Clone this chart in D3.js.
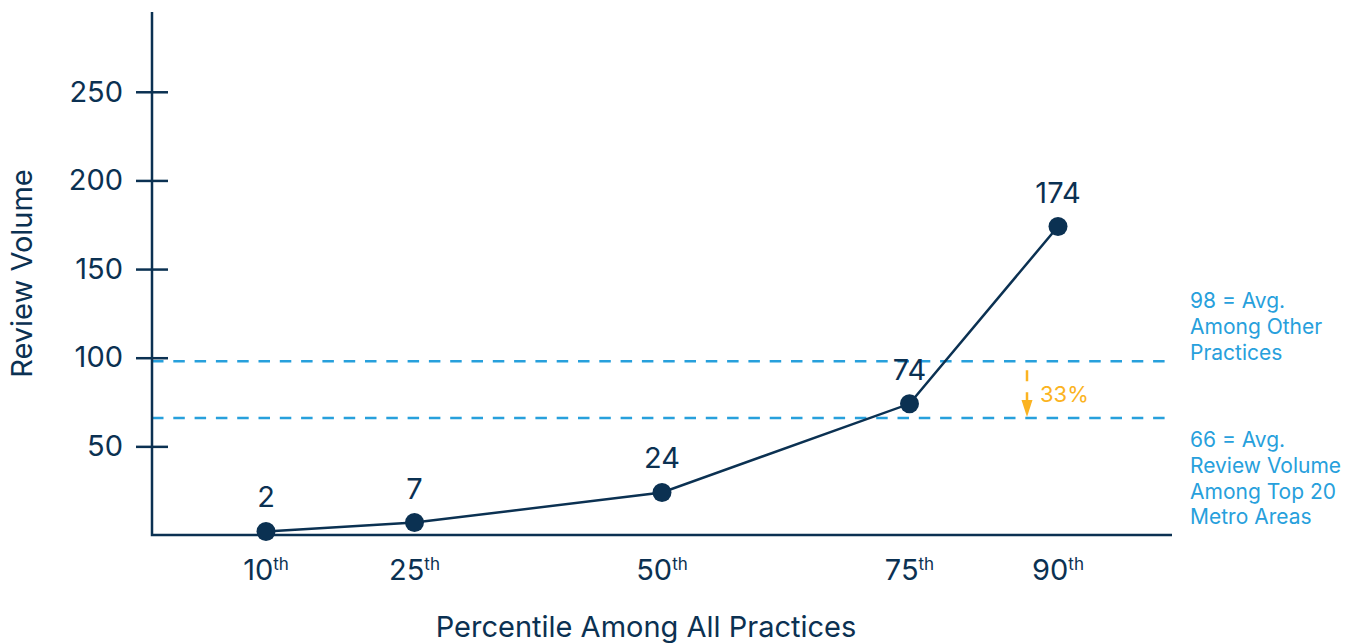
<!DOCTYPE html>
<html>
<head>
<meta charset="utf-8">
<script src="https://cdn.jsdelivr.net/npm/d3@7"></script>
<style>
  html, body { margin: 0; padding: 0; background: #ffffff; }
  svg { display: block; font-family: Inter, "Noto Sans", sans-serif; }
</style>
</head>
<body>
<svg id="chart" width="1357" height="643"></svg>
<script>
// Review volume by percentile
const percentiles = [10, 25, 50, 75, 90];
const reviewVolume = [2, 7, 24, 74, 174];
const yTickValues = [50, 100, 150, 200, 250];

// Reference averages
const refValues = [98, 66];
const refLabels = [
  ["98 = Avg.", "Among Other", "Practices"],
  ["66 = Avg.", "Review Volume", "Among Top 20", "Metro Areas"]
];

const xTitle = "Percentile Among All Practices";
const yTitle = "Review Volume";

const navy = "#0b3152";
const blue = "#27a0dc";
const orange = "#fbb321";
const mainSize = 29;

const svg = d3.select("#chart");

const axisLeftX = 152, axisRightX = 1172;
const axisBottomY = 535, axisTopY = 12;

const x = d3.scaleLinear().domain([0, 100]).range([167, 1157]);
const y = d3.scaleLinear().domain([0, 295]).range([axisBottomY, axisTopY]);

// Reference dashed lines
svg.selectAll("line.ref")
  .data(refValues)
  .join("line")
  .attr("class", "ref")
  .attr("x1", axisLeftX).attr("x2", axisRightX)
  .attr("y1", d => y(d)).attr("y2", d => y(d))
  .attr("stroke", blue)
  .attr("stroke-width", 2.5)
  .attr("stroke-dasharray", "11.5,9.8");

// Y axis
const yAxis = svg.append("g")
  .attr("transform", `translate(${axisLeftX},0)`)
  .call(d3.axisLeft(y).tickValues(yTickValues).tickSize(16).tickPadding(13).tickFormat(d3.format("d")));
yAxis.select(".domain").remove();
yAxis.selectAll(".tick line").attr("x1", 16).attr("x2", -16)
  .attr("stroke", navy).attr("stroke-width", 2.5);
yAxis.selectAll(".tick text")
  .attr("fill", navy).attr("font-size", mainSize).attr("font-family", "Inter, sans-serif");

// Axis lines
svg.append("path")
  .attr("d", `M${axisLeftX},${axisTopY}V${axisBottomY}H${axisRightX}`)
  .attr("fill", "none")
  .attr("stroke", navy)
  .attr("stroke-width", 2.5);

// X tick labels with ordinal suffix
const xt = svg.selectAll("text.xtick")
  .data(percentiles)
  .join("text")
  .attr("class", "xtick")
  .attr("x", d => x(d))
  .attr("y", 580)
  .attr("text-anchor", "middle")
  .attr("fill", navy)
  .attr("font-size", mainSize);
xt.append("tspan").text(d => d);
xt.append("tspan").attr("dy", -10).attr("font-size", 17).text("th");

// Data line
const line = d3.line()
  .x((d, i) => x(percentiles[i]))
  .y(d => y(d));
svg.append("path")
  .datum(reviewVolume)
  .attr("d", line)
  .attr("fill", "none")
  .attr("stroke", navy)
  .attr("stroke-width", 2.5);

svg.selectAll("circle.pt")
  .data(reviewVolume)
  .join("circle")
  .attr("class", "pt")
  .attr("cx", (d, i) => x(percentiles[i]))
  .attr("cy", d => y(d))
  .attr("r", 9.5)
  .attr("fill", navy);

svg.selectAll("text.val")
  .data(reviewVolume)
  .join("text")
  .attr("class", "val")
  .attr("x", (d, i) => x(percentiles[i]))
  .attr("y", d => y(d) - 24)
  .attr("text-anchor", "middle")
  .attr("fill", navy)
  .attr("font-size", mainSize)
  .text(d => d);

// Reference labels on the right
refLabels.forEach((lines, k) => {
  const startY = k === 0 ? 308 : 447;
  const t = svg.append("text")
    .attr("x", axisRightX + 18)
    .attr("y", startY)
    .attr("fill", blue)
    .attr("font-size", 21);
  lines.forEach((s, i) => {
    t.append("tspan").attr("x", axisRightX + 18).attr("dy", i === 0 ? 0 : 25.8).text(s);
  });
});

// Gap arrow between the two averages
const arrowX = 1027;
const yTop = y(refValues[0]) + 9;
const yBot = y(refValues[1]) - 1;
svg.append("line")
  .attr("x1", arrowX).attr("x2", arrowX)
  .attr("y1", yTop).attr("y2", yBot - 14)
  .attr("stroke", orange).attr("stroke-width", 2.5)
  .attr("stroke-dasharray", "11,11");
svg.append("path")
  .attr("d", `M${arrowX - 5.5},${yBot - 17}L${arrowX + 5.5},${yBot - 17}L${arrowX},${yBot}Z`)
  .attr("fill", orange);
const gapPct = Math.round((refValues[0] - refValues[1]) / refValues[0] * 100);
svg.append("text")
  .attr("x", arrowX + 13)
  .attr("y", (yTop + yBot) / 2 + 8)
  .attr("fill", orange)
  .attr("font-size", 22)
  .text(gapPct + "%");

// Axis titles
svg.append("text")
  .attr("x", 646).attr("y", 637)
  .attr("text-anchor", "middle")
  .attr("fill", navy)
  .attr("font-size", mainSize)
  .text(xTitle);

svg.append("text")
  .attr("transform", `translate(32,${(axisTopY + axisBottomY) / 2}) rotate(-90)`)
  .attr("text-anchor", "middle")
  .attr("fill", navy)
  .attr("font-size", mainSize)
  .text(yTitle);
</script>
</body>
</html>
